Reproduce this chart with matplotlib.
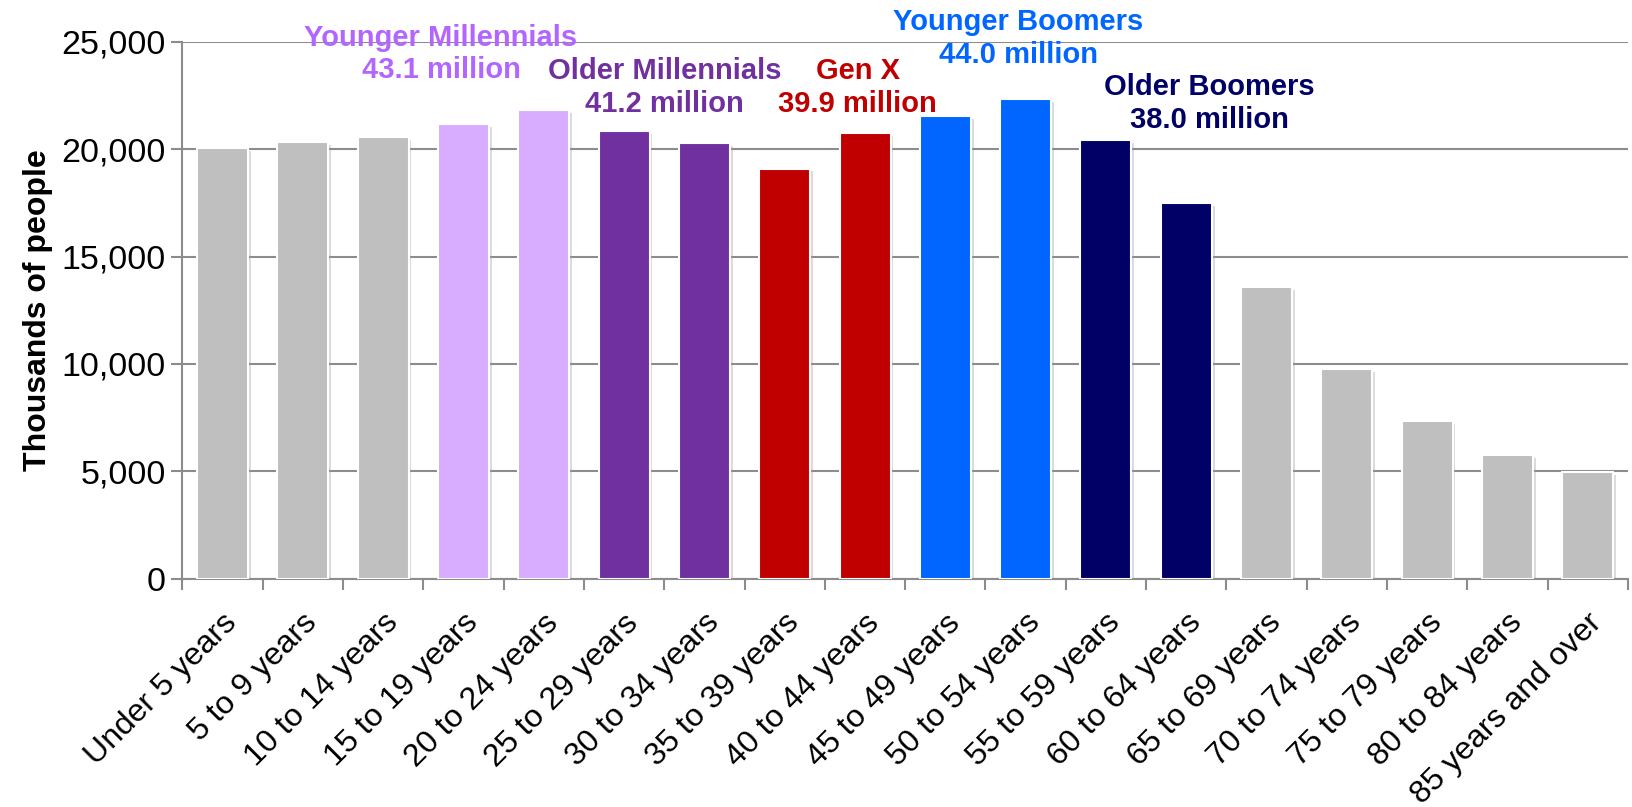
import matplotlib.pyplot as plt
import matplotlib.transforms as mtransforms
import matplotlib.patheffects as pe
from matplotlib.ticker import FuncFormatter, FixedLocator
import numpy as np

plt.rcParams['font.family'] = ['Liberation Sans', 'DejaVu Sans']

# age groups and population (thousands)
age_groups = ['Under 5 years', '5 to 9 years', '10 to 14 years', '15 to 19 years',
              '20 to 24 years', '25 to 29 years', '30 to 34 years', '35 to 39 years',
              '40 to 44 years', '45 to 49 years', '50 to 54 years', '55 to 59 years',
              '60 to 64 years', '65 to 69 years', '70 to 74 years', '75 to 79 years',
              '80 to 84 years', '85 years and over']
population = [20060, 20340, 20560, 21180, 21840, 20850, 20280, 19100,
              20740, 21550, 22340, 20420, 17490, 13570, 9740, 7320, 5740, 4960]

gray = '#BFBFBF'
bar_colors = [gray, gray, gray,
              '#D8ACFF', '#D8ACFF',
              '#7030A0', '#7030A0',
              '#C00000', '#C00000',
              '#0066FF', '#0066FF',
              '#000066', '#000066',
              gray, gray, gray, gray, gray]

# generation labels: name, total, text colour, x (category units), y (thousands)
gen_names = ['Younger Millennials', 'Older Millennials', 'Gen X', 'Younger Boomers', 'Older Boomers']
gen_totals = [43.1, 41.2, 39.9, 44.0, 38.0]
gen_colors = ['#B366FF', '#7030A0', '#C00000', '#0066FF', '#000066']
gen_x = [2.72, 5.5, 7.91, 9.91, 12.29]
gen_y = [24430, 22880, 22880, 25170, 22140]

fig = plt.figure(figsize=(16.32, 8.07), dpi=100)
ax = fig.add_axes([0.1118, 0.2831, 0.8857, 0.6649])

x = np.arange(len(age_groups))
bars = ax.bar(x, population, width=0.635, color=bar_colors, edgecolor='white', linewidth=1.5, zorder=3)
for b in bars:
    b.set_path_effects([pe.SimplePatchShadow(offset=(2, -2), shadow_rgbFace='#999999', alpha=0.35),
                        pe.Normal()])

ax.set_xlim(-0.5, len(age_groups) - 0.5)
ax.set_ylim(0, 25000)
ax.set_yticks(np.arange(0, 25001, 5000))
ax.yaxis.set_major_formatter(FuncFormatter(lambda v, p: f'{int(v):,}'))
ax.grid(axis='y', color='#8C8C8C', linewidth=1.5, zorder=0)

# category labels, rotated, ending just right of each bar centre
ax.set_xticks(x)
ax.set_xticklabels([])
ax.tick_params(axis='x', which='major', length=0)
ax.xaxis.set_minor_locator(FixedLocator(np.arange(-0.5, len(age_groups), 1)))
ax.tick_params(axis='x', which='minor', length=8, width=1.5, color='#8C8C8C')
ax.tick_params(axis='y', length=8, width=1.5, color='#8C8C8C', labelsize=24.5, pad=4)

base = mtransforms.blended_transform_factory(ax.transData, ax.transAxes)
shift = mtransforms.ScaledTranslation(0.10, -0.40, fig.dpi_scale_trans)
for xi, lab in zip(x, age_groups):
    ax.text(xi, 0, lab, transform=base + shift, rotation=45, rotation_mode='anchor',
            ha='right', va='center', fontsize=23)

for s in ['top', 'right']:
    ax.spines[s].set_visible(False)
for s in ['left', 'bottom']:
    ax.spines[s].set_color('#8C8C8C')
    ax.spines[s].set_linewidth(1.5)

ax.set_ylabel('Thousands of people', fontsize=23, fontweight='bold', labelpad=6)

for name, tot, c, gx, gy in zip(gen_names, gen_totals, gen_colors, gen_x, gen_y):
    ax.text(gx, gy, f'{name}\n{tot:.1f} million', color=c, fontsize=21, fontweight='bold',
            ha='center', va='center', multialignment='center', linespacing=1.2,
            zorder=5, clip_on=False)

fig.savefig('out.png', dpi=100)
